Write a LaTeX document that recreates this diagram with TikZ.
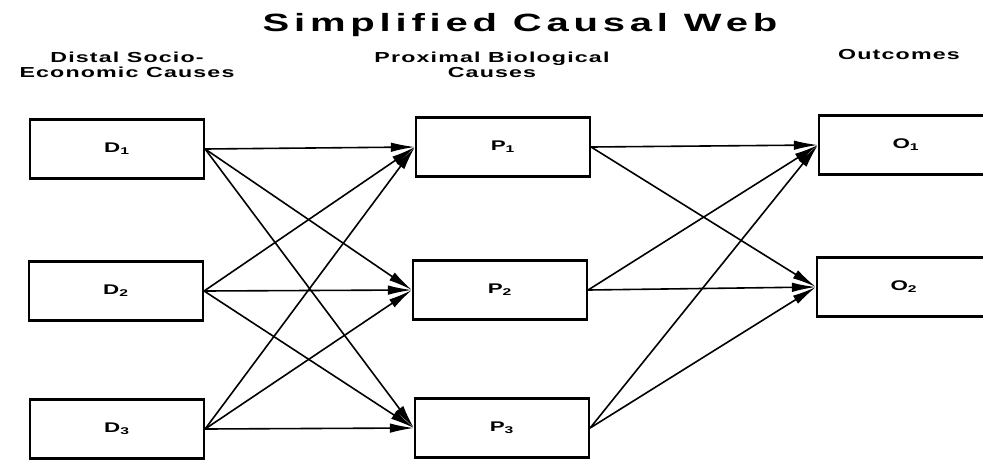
\documentclass[tikz,border=0pt]{standalone}
\usepackage{fontspec}
\setmainfont{Liberation Sans}
\newfontfamily\titlefont[LetterSpace=12]{Liberation Sans}
\newfontfamily\headfont[LetterSpace=5]{Liberation Sans}
\usepackage{graphicx}
\usetikzlibrary{arrows.meta}

% stretched letters, as in the typewritten sheet
\newcommand{\wide}[1]{\scalebox{1.6}[1]{#1}}

\tikzset{
  box/.style={draw, line width=2.2pt, minimum width=174pt, minimum height=59pt,
    font=\headfont\bfseries\fontsize{14}{16}\selectfont},
  head/.style={font=\headfont\bfseries\fontsize{14.5}{15}\selectfont, align=center, inner sep=0pt},
  link/.style={-{Latex[length=24pt,width=9.5pt]}, line width=1.6pt}
}

\begin{document}
\begin{tikzpicture}[x=1pt,y=-1pt]
\useasboundingbox (0,0) rectangle (983,459);

\node[font=\titlefont\bfseries\fontsize{25}{28}\selectfont, anchor=base] (title) at (520,31) {\wide{Simplified Causal Web}};

% column headings
\node[head, anchor=north] (distal) at (127,52) {\wide{Distal Socio-}\\\wide{Economic Causes}};
\node[head, anchor=north] (proximal) at (492,52) {\wide{Proximal Biological}\\\wide{Causes}};
\node[head, anchor=north] (outcomes) at (899,49) {\wide{Outcomes}};

% the boxes
\node[box] (d1) at (117,149) {\wide{D\textsubscript{1}}};
\node[box] (d2) at (116,291) {\wide{D\textsubscript{2}}};
\node[box] (d3) at (117,429) {\wide{D\textsubscript{3}}};

\node[box] (p1) at (503,147) {\wide{P\textsubscript{1}}};
\node[box] (p2) at (500,290) {\wide{P\textsubscript{2}}};
\node[box] (p3) at (502,428) {\wide{P\textsubscript{3}}};

\node[box] (o1) at (906,145) {\wide{O\textsubscript{1}}};
\node[box] (o2) at (904,287) {\wide{O\textsubscript{2}}};

% every cause feeds every next one
\foreach \i in {1,2,3}
  \foreach \j in {1,2,3}
    \draw[link] (d\i.east) -- (p\j.west);
\foreach \i in {1,2,3}
  \foreach \j in {1,2}
    \draw[link] (p\i.east) -- (o\j.west);
\end{tikzpicture}
\end{document}
